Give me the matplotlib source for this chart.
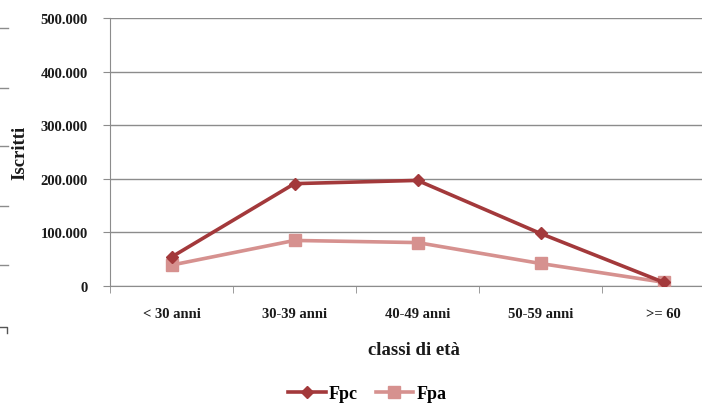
import matplotlib
matplotlib.use("Agg")
import matplotlib.pyplot as plt
from matplotlib.lines import Line2D
from matplotlib.ticker import FuncFormatter, FixedLocator

categories = ["< 30 anni", "30-39 anni", "40-49 anni", "50-59 anni", ">= 60"]
fpc = [54000, 191000, 197000, 98000, 7000]
fpa = [39000, 85000, 81000, 42000, 7000]
y_ticks = [0, 100000, 200000, 300000, 400000, 500000]

C_FPC = "#A3393B"
C_FPA = "#D6918F"
GRID = "#8C8C8C"
TXT = "#1a1a1a"

plt.rcParams["font.family"] = ["Liberation Serif", "DejaVu Serif"]
plt.rcParams["font.weight"] = "bold"
plt.rcParams["axes.labelweight"] = "bold"

fig = plt.figure(figsize=(7.02, 4.06), dpi=100)
ax = fig.add_axes([110 / 702, 119 / 406, 615 / 702, 268 / 406])

x = list(range(len(categories)))
ax.plot(x, fpc, color=C_FPC, lw=2.6, marker="D", ms=6, zorder=4, label="Fpc")
ax.plot(x, fpa, color=C_FPA, lw=2.6, marker="s", ms=8.5, zorder=3, label="Fpa")

ax.set_xlim(-0.5, 4.5)
ax.set_ylim(0, 500000)
ax.set_yticks(y_ticks)
ax.yaxis.set_major_formatter(FuncFormatter(
    lambda v, _: "0" if v == 0 else f"{int(v):,}".replace(",", ".")))
ax.grid(axis="y", color=GRID, lw=1.0)
ax.set_axisbelow(True)

ax.set_xticks(x)
ax.set_xticklabels(categories)
ax.tick_params(axis="x", which="major", length=0, pad=15, labelsize=10.5, labelcolor=TXT)
ax.xaxis.set_minor_locator(FixedLocator([i + 0.5 for i in range(-1, 5)]))
ax.tick_params(axis="x", which="minor", length=5, color=GRID, direction="out")
ax.tick_params(axis="y", length=5, color=GRID, pad=11, labelsize=10.5, labelcolor=TXT)

for s in ("top", "right"):
    ax.spines[s].set_visible(False)
for s in ("left", "bottom"):
    ax.spines[s].set_color(GRID)

ax.set_ylabel("Iscritti", fontsize=13.5, color=TXT)
ax.yaxis.set_label_coords(-0.133, 0.5)
fig.text(414 / 702, 1 - 351 / 406, "classi di età", ha="center", va="center",
         fontsize=13.5, color=TXT, fontweight="bold")

handles = [
    Line2D([], [], color=C_FPC, lw=2.6, marker="D", ms=6),
    Line2D([], [], color=C_FPA, lw=2.6, marker="s", ms=8.5),
]
fig.legend(handles, ["Fpc", "Fpa"], loc="center", bbox_to_anchor=(367 / 702, 1 - 395 / 406),
           ncol=2, frameon=False, fontsize=13, handlelength=2.1, columnspacing=1.0,
           handletextpad=0.15)

# stray marks along the left edge of the original scan
for yy in (29, 89, 147, 207, 266):
    fig.add_artist(Line2D([0, 8 / 702], [1 - yy / 406] * 2, color=GRID, lw=1))
fig.add_artist(Line2D([0, 7 / 702, 7 / 702], [1 - 328 / 406, 1 - 328 / 406, 1 - 334 / 406],
                      color="#555555", lw=1))

fig.savefig("out.png", dpi=100)
